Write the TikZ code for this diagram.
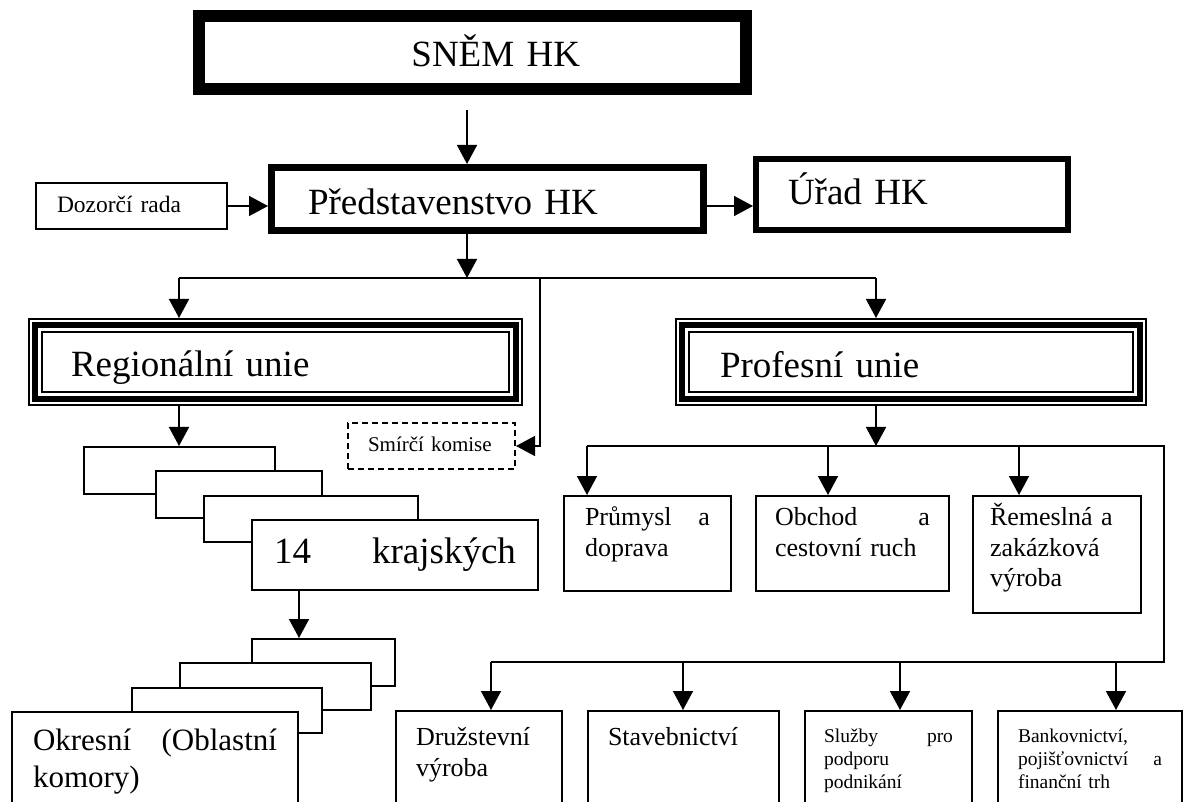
\documentclass[tikz,border=0pt]{standalone}
\usepackage{fontspec}
\setmainfont{Liberation Serif}
\usetikzlibrary{arrows.meta}

\begin{document}
\begin{tikzpicture}[x=1pt, y=-1pt, line width=1.5pt, >={Triangle[length=19pt,width=20pt]}]
    \tikzstyle{every node}=[anchor=north west, inner sep=0pt, align=left, fill=white]
    \tikzstyle{box}=[draw, line width=2pt]
    \tikzstyle{bigtext}=[font=\fontsize{37}{42}\selectfont]
    \tikzstyle{midtext}=[font=\fontsize{26}{31}\selectfont]
    \tikzstyle{smalltext}=[font=\fontsize{19.5}{23}\selectfont]
    \tikzstyle{unie}=[draw, line width=6pt, outer sep=7pt, bigtext]
    \clip (0,0) rectangle (1187,802);

    % vedeni
    \draw (193,10) node[box, line width=12pt, bigtext, align=right, minimum width=547pt, text width=215pt, text height=51pt, text depth=22pt] (snem) {SNĚM HK};
    \draw (268,164) node[box, line width=7pt, bigtext, minimum width=432pt, text width=359pt, text height=47.5pt, text depth=15.5pt] (pred) {Představenstvo HK};
    \draw (753,156) node[box, line width=6pt, bigtext, minimum width=312pt, text width=248pt, text height=46pt, text depth=25pt] (urad) {Úřad HK};
    \draw (34.5,182) node[box, font=\fontsize{23.5}{28}\selectfont, minimum width=191.5pt, text width=148.5pt, text height=30pt, text depth=16pt] (dozor) {Dozorčí rada};
    \draw (347,422) node[box, dash pattern=on 6pt off 4pt, font=\fontsize{21}{25}\selectfont, minimum width=167pt, text width=127pt, text height=29pt, text depth=17pt] (smir) {Smírčí komise};

    % unie
    \draw (27.6,318) node[unie, minimum width=481.4pt, text width=408.6pt, text height=52pt, text depth=22pt] (reg) {Regionální unie};
    \draw (675,318) node[unie, minimum width=458pt, text width=382pt, text height=52.5pt, text depth=21.5pt] (prof) {Profesní unie};
    \foreach \n in {reg, prof} {
        \draw[line width=2pt] ([shift={(1,1)}]\n.north west) rectangle ([shift={(-1,-1)}]\n.south east);
        \draw[line width=2.2pt] ([shift={(14,14)}]\n.north west) rectangle ([shift={(-14,-14)}]\n.south east);
    }

    % krajske komory
    \draw (83,446) node[box, minimum width=191pt, minimum height=47pt] (kraj1) {};
    \draw (155,470) node[box, minimum width=166pt, minimum height=47pt] (kraj2) {};
    \draw (203,495) node[box, minimum width=214pt, minimum height=46pt] (kraj3) {};
    \draw (251,519) node[box, bigtext, minimum width=286pt, text width=242pt, text height=43pt, text depth=27pt] (kraj4) {14\hfill krajských};

    % okresni komory
    \draw (251,638) node[box, minimum width=143pt, minimum height=47pt] (okrA) {};
    \draw (179,662) node[box, minimum width=191pt, minimum height=47pt] (okrB) {};
    \draw (131,687) node[box, minimum width=190pt, minimum height=45pt] (okrC) {};
    \draw (11,711) node[box, font=\fontsize{31}{37}\selectfont, minimum width=286pt, text width=244pt, text height=38pt, text depth=79pt] (okrD) {Okresní\hfill (Oblastní\\komory)};

    % profesni sekce
    \draw (563,495) node[box, midtext, minimum width=167pt, text width=125pt, text height=29pt, text depth=66pt] (prum) {Průmysl\hfill a\\doprava};
    \draw (755,495) node[box, midtext, minimum width=193pt, text width=155pt, text height=29pt, text depth=66pt] (obch) {Obchod\hfill a\\cestovní ruch};
    \draw (972,495) node[box, midtext, minimum width=168pt, text width=134pt, text height=29pt, text depth=88pt] (rem) {Řemeslná a\\zakázková\\výroba};
    \draw (395,710) node[box, midtext, minimum width=166pt, text width=126pt, text height=34pt, text depth=84pt] (druz) {Družstevní\\výroba};
    \draw (587,710) node[box, midtext, minimum width=191pt, text width=151pt, text height=34pt, text depth=84pt] (stav) {Stavebnictví};
    \draw (804,710) node[box, smalltext, minimum width=167pt, text width=129pt, text height=31pt, text depth=87pt] (sluz) {Služby\hfill pro\\podporu\\podnikání};
    \draw (997,710) node[box, smalltext, minimum width=184pt, text width=144pt, text height=31pt, text depth=87pt] (bank) {Bankovnictví,\\pojišťovnictví\hfill a\\finanční trh};

    % spojnice
    \coordinate (top) at (467,110);
    \coordinate (fork) at (467,278);
    \coordinate (forkL) at (179,278);
    \coordinate (forkM) at (540,278);
    \coordinate (forkR) at (876,278);
    \coordinate (pl) at (587,446);
    \coordinate (pr) at (1164,446);
    \coordinate (ql) at (491,662);
    \coordinate (qr) at (1164,662);
    \draw[->] (top) -- (top |- pred.north);
    \draw[->] (dozor.east) -- (dozor.east -| pred.west);
    \draw[->] (pred.east |- dozor.east) -- (urad.west |- dozor.east);
    \draw[->] (fork |- pred.south) -- (fork);
    \draw (forkL) -- (forkR);
    \draw[->] (forkL) -- (forkL |- reg.north);
    \draw[->] (forkR) -- (forkR |- prof.north);
    \draw[->] (forkM) |- (smir.east);
    \draw[->] (forkL |- reg.south) -- (forkL |- kraj1.north);
    \draw[->] (kraj4.south -| okrD.east) -- (okrA.north -| okrD.east);
    \draw[->] (forkR |- prof.south) -- (pl -| forkR);
    \draw (pl) -- (pr) -- (qr) -- (ql);
    \foreach \x/\b in {587/prum, 828/obch, 1019/rem}
        \draw[->] (\x,446) -- (\x,446 |- \b.north);
    \foreach \x/\b in {491/druz, 683/stav, 900/sluz, 1116/bank}
        \draw[->] (\x,662) -- (\x,662 |- \b.north);
\end{tikzpicture}
\end{document}
